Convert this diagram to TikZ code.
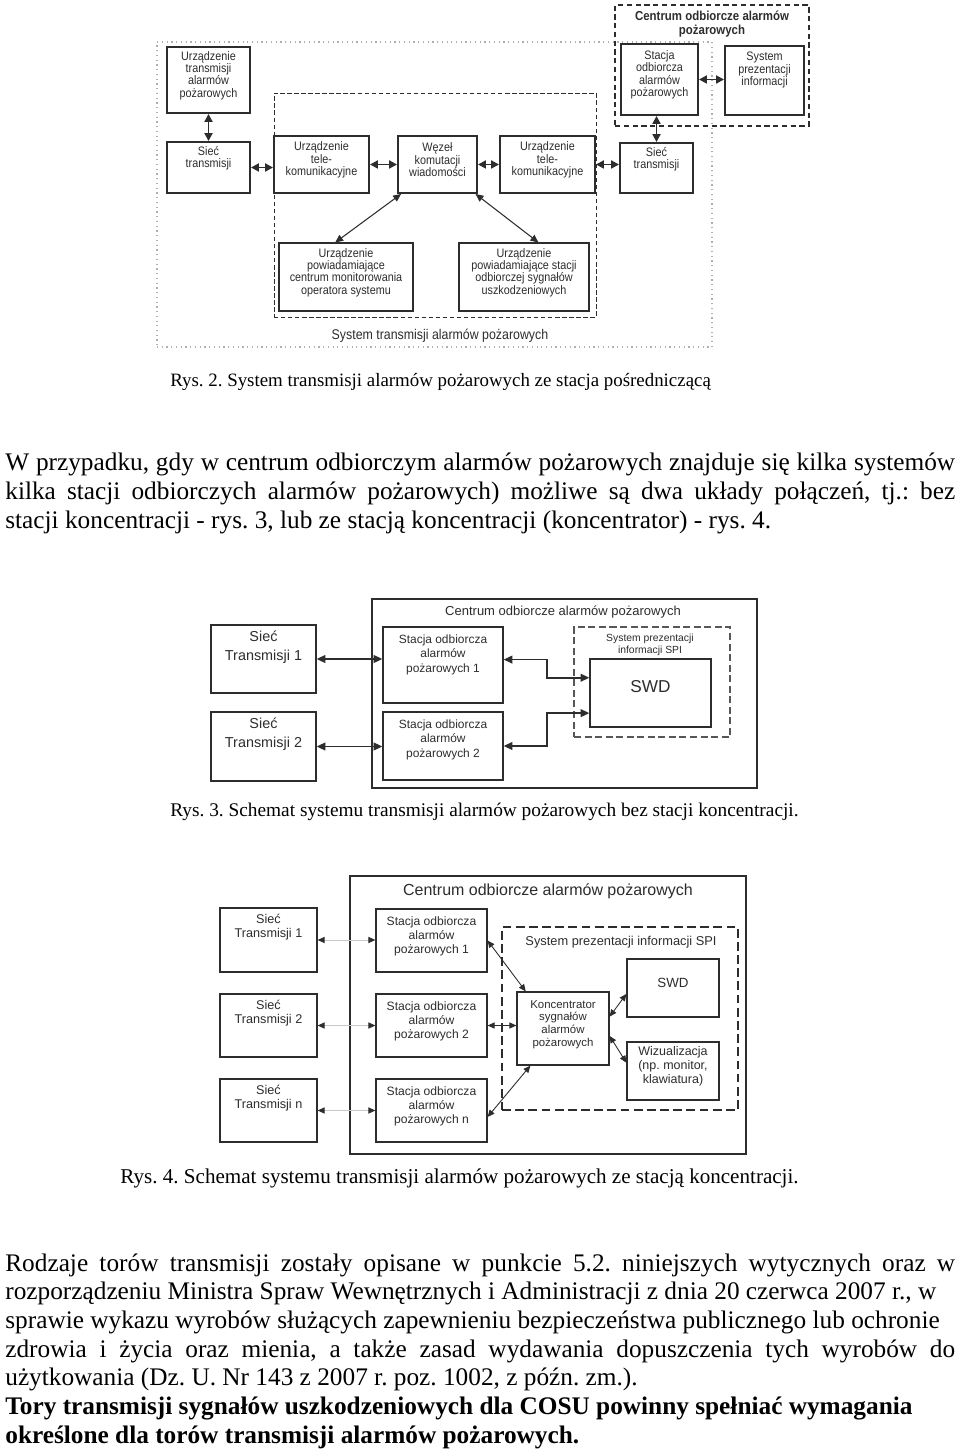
\documentclass[tikz,border=0pt]{standalone}
\usepackage{fontspec}
\setmainfont{Liberation Serif}
\newfontfamily\diagfont{Liberation Sans}
\newfontfamily\narrowfont{Liberation Sans}[FakeStretch=0.88]
\usetikzlibrary{arrows.meta, positioning, calc, fit}
\definecolor{ink}{RGB}{45, 45, 45}
\definecolor{dotgrey}{RGB}{175, 175, 175}
\definecolor{linegrey}{RGB}{200, 200, 200}
\frenchspacing
\setlength{\parindent}{0pt}
\tikzstyle{box2} = [rectangle, draw=ink, line width=1.1pt, inner sep=0pt, align=center, text=ink, font=\narrowfont\fontsize{7}{7.1}\selectfont]
\tikzstyle{box2thin} = [box2, line width=0.6pt]
\tikzstyle{top2} = [anchor=north, inner sep=0pt, align=center, text=ink, font=\narrowfont\fontsize{7}{7.1}\selectfont]
\tikzstyle{centrum2} = [rectangle, draw=ink, line width=1.1pt, dash pattern=on 3pt off 2pt, inner sep=0pt]
\tikzstyle{tele2} = [rectangle, draw=ink, line width=0.5pt, dash pattern=on 2.5pt off 1.5pt, inner sep=0pt]
\tikzstyle{system2} = [rectangle, draw=dotgrey, line width=0.7pt, dotted, inner sep=0pt]
\tikzstyle{arrow2} = [draw=ink, line width=1.1pt, {Triangle[length=4.5pt, width=4.5pt]}-{Triangle[length=4.5pt, width=4.5pt]}]
\tikzstyle{arrow2thin} = [draw=ink, line width=0.6pt, {Triangle[length=4.5pt, width=4pt]}-{Triangle[length=4.5pt, width=4pt]}]
\tikzstyle{box3} = [rectangle, draw=ink, line width=0.8pt, inner sep=0pt, align=center, text=ink, font=\diagfont\fontsize{6.8}{8.2}\selectfont]
\tikzstyle{top3} = [anchor=north, inner sep=0pt, align=center, text=ink, font=\diagfont\fontsize{6.8}{8.2}\selectfont]
\tikzstyle{spi3} = [rectangle, draw=ink!80, line width=0.8pt, dash pattern=on 4pt off 2pt, inner sep=0pt]
\tikzstyle{arrow3} = [draw=ink, line width=0.9pt, {Triangle[length=5pt, width=4.5pt]}-{Triangle[length=5pt, width=4.5pt]}]
\tikzstyle{box4} = [rectangle, draw=ink, line width=0.7pt, inner sep=0pt, align=center, text=ink, font=\diagfont\fontsize{6.9}{7.9}\selectfont]
\tikzstyle{top4} = [anchor=north, inner sep=0pt, align=center, text=ink, font=\diagfont\fontsize{6.9}{7.9}\selectfont]
\tikzstyle{spi4} = [rectangle, draw=ink, line width=0.9pt, dash pattern=on 5pt off 2.5pt, inner sep=0pt]
\tikzstyle{arrow4} = [draw=ink, line width=0.5pt, {Triangle[length=4pt, width=3.5pt]}-{Triangle[length=4pt, width=3.5pt]}]
\tikzstyle{link4} = [draw=linegrey, line width=0.5pt, {Triangle[length=4pt, width=3.5pt, color=ink]}-{Triangle[length=4pt, width=3.5pt, color=ink]}]
\tikzstyle{bodytext} = [anchor=base west, inner sep=0pt, text width=19cm, align=justify, font=\fontsize{14.4}{16.33}\selectfont]
\tikzstyle{caption} = [anchor=base west, inner sep=0pt]

\begin{document}
\begin{tikzpicture}[x=0.02cm, y=-0.02cm]
    \fill[white] (0,0) rectangle (960,1452);
    \useasboundingbox (0,0) rectangle (960,1452);

    % Rys. 2
    \node[system2, fit={(157,42) (712,347)}] (sta2) {};
    \node[tele2, fit={(274,93) (596,317)}] (telearea) {};
    \node[centrum2, fit={(615,5) (809,126)}] (cod2) {};
    \node[text=ink, align=center, font=\narrowfont\bfseries\fontsize{7.4}{7.6}\selectfont] (cod2title) at (712,24) {Centrum odbiorcze alarmów\\pożarowych};
    \node[box2, fit={(167,47) (250,113)}] (utr) {Urządzenie\\transmisji\\alarmów\\pożarowych};
    \node[box2, fit={(167,142) (250,193)}, label={[top2, yshift=-2.8pt]north:{Sieć\\transmisji}}] (sieL) {};
    \node[box2, fit={(274,136) (369,193)}] (tkL) {Urządzenie\\tele-\\komunikacyjne};
    \node[box2, fit={(398,136) (477,193)}] (wez) {Węzeł\\komutacji\\wiadomości};
    \node[box2, fit={(500,136) (595,193)}] (tkR) {Urządzenie\\tele-\\komunikacyjne};
    \node[box2, fit={(620,143) (693,193)}, label={[top2, yshift=-2.8pt]north:{Sieć\\transmisji}}] (sieR) {};
    \node[box2, fit={(621,44) (698,115)}] (soa) {Stacja\\odbiorcza\\alarmów\\pożarowych};
    \node[box2, fit={(725,46) (804,115)}, label={[top2, yshift=-4pt]north:{System\\prezentacji\\informacji}}] (spi) {};
    \node[box2thin, fit={(279,243) (413,311)}] (pow1) {Urządzenie\\powiadamiające\\centrum monitorowania\\operatora systemu};
    \node[box2thin, fit={(459,243) (589,311)}] (pow2) {Urządzenie\\powiadamiające stacji\\odbiorczej sygnałów\\uszkodzeniowych};
    \node[text=ink, font=\narrowfont\fontsize{8}{9}\selectfont] (sta2label) at (440,336) {System transmisji alarmów pożarowych};

    \draw[arrow2] (utr) -- (sieL);
    \draw[arrow2] (sieL.east) -- (sieL.east -| tkL.west);
    \draw[arrow2] (tkL.east) -- (tkL.east -| wez.west);
    \draw[arrow2] (wez.east) -- (wez.east -| tkR.west);
    \draw[arrow2] (tkR.east) -- (tkR.east -| sieR.west);
    \draw[arrow2] (soa.east) -- (soa.east -| spi.west);
    \draw[arrow2] (sieR.north) -- (sieR.north |- soa.south);
    \draw[arrow2thin] ($(wez.south west)!0.05!(wez.south east)$) -- ($(pow1.north west)!0.42!(pow1.north east)$);
    \draw[arrow2thin] ($(wez.south west)!0.97!(wez.south east)$) -- ($(pow2.north west)!0.61!(pow2.north east)$);

    \node[caption, font=\fontsize{10.75}{12}\selectfont] (cap2) at (170,387) {Rys. 2. System transmisji alarmów pożarowych ze stacja pośredniczącą};

    \node[bodytext] (para1) at (5,471) {W przypadku, gdy w centrum odbiorczym alarmów pożarowych znajduje się kilka systemów\linebreak kilka stacji odbiorczych alarmów pożarowych) możliwe są dwa układy połączeń, tj.: bez\linebreak stacji koncentracji - rys. 3, lub ze stacją koncentracji (koncentrator) - rys. 4.};

    % Rys. 3
    \node[box3, fit={(372,599) (757,788)}] (cod3) {};
    \node[text=ink, font=\diagfont\fontsize{7.4}{8}\selectfont] (cod3title) at (563,612) {Centrum odbiorcze alarmów pożarowych};
    \node[spi3, fit={(574,627) (730,737)}] (spibox3) {};
    \node[text=ink, align=center, font=\diagfont\fontsize{5.9}{6.8}\selectfont] (spi3label) at (650,645) {System prezentacji\\informacji SPI};
    \node[box3, fit={(590,659) (711,727)}, font=\diagfont\fontsize{9.8}{11}\selectfont] (swd3) {SWD};
    \node[box3, fit={(211,625) (316,693)}, label={[top3, font=\diagfont\fontsize{8.2}{10.6}\selectfont, yshift=-3.5pt]north:{Sieć\\Transmisji 1}}] (sie31) {};
    \node[box3, fit={(211,712) (316,781)}, label={[top3, font=\diagfont\fontsize{8.2}{10.6}\selectfont, yshift=-3.5pt]north:{Sieć\\Transmisji 2}}] (sie32) {};
    \node[box3, fit={(383,627) (503,703)}, label={[top3, yshift=-4.5pt]north:{Stacja odbiorcza\\alarmów\\pożarowych 1}}] (sta31) {};
    \node[box3, fit={(383,712) (503,780)}, label={[top3, yshift=-4.5pt]north:{Stacja odbiorcza\\alarmów\\pożarowych 2}}] (sta32) {};

    \draw[arrow3] (sie31.east) -- (sie31.east -| sta31.west);
    \draw[arrow3] (sie32.east) -- (sie32.east -| sta32.west);
    \draw[arrow3] ($(sta31.north east)!0.43!(sta31.south east)$) -- ++(43,0) |- ($(swd3.north west)!0.28!(swd3.south west)$);
    \draw[arrow3] (sta32.east) -- ++(43,0) |- ($(swd3.north west)!0.79!(swd3.south west)$);

    \node[caption, font=\fontsize{11}{12}\selectfont] (cap3) at (170,816) {Rys. 3. Schemat systemu transmisji alarmów pożarowych bez stacji koncentracji.};

    % Rys. 4
    \node[box4, fit={(350,876) (746,1154)}] (cod4) {};
    \node[text=ink, font=\diagfont\fontsize{9.1}{10}\selectfont] (cod4title) at (548,891) {Centrum odbiorcze alarmów pożarowych};
    \node[spi4, fit={(502,927) (738,1110)}] (spibox4) {};
    \node[text=ink, font=\diagfont\fontsize{7.3}{8}\selectfont] (spi4label) at (621,942) {System prezentacji informacji SPI};
    \node[box4, fit={(220,908) (317,972)}, label={[top4, font=\diagfont\fontsize{7.2}{8}\selectfont, yshift=-3.4pt]north:{Sieć\\Transmisji 1}}] (sie41) {};
    \node[box4, fit={(220,994) (317,1057)}, label={[top4, font=\diagfont\fontsize{7.2}{8}\selectfont, yshift=-3.4pt]north:{Sieć\\Transmisji 2}}] (sie42) {};
    \node[box4, fit={(220,1079) (317,1142)}, label={[top4, font=\diagfont\fontsize{7.2}{8}\selectfont, yshift=-3.4pt]north:{Sieć\\Transmisji n}}] (sie4n) {};
    \node[box4, fit={(376,909) (487,972)}, label={[top4, yshift=-4.4pt]north:{Stacja odbiorcza\\alarmów\\pożarowych 1}}] (sta41) {};
    \node[box4, fit={(376,994) (487,1057)}, label={[top4, yshift=-4.4pt]north:{Stacja odbiorcza\\alarmów\\pożarowych 2}}] (sta42) {};
    \node[box4, fit={(376,1079) (487,1142)}, label={[top4, yshift=-4.4pt]north:{Stacja odbiorcza\\alarmów\\pożarowych n}}] (sta4n) {};
    \node[box4, fit={(517,992) (609,1065)}, font=\diagfont\fontsize{6.5}{7.3}\selectfont] (kon4) {Koncentrator\\sygnałów\\alarmów\\pożarowych};
    \node[box4, fit={(627,959) (719,1017)}, font=\diagfont\fontsize{7.6}{8.5}\selectfont] (swd4) {SWD};
    \node[box4, fit={(627,1042) (719,1100)}, font=\diagfont\fontsize{7.1}{8}\selectfont] (wiz4) {Wizualizacja\\(np. monitor,\\klawiatura)};

    \draw[link4] (sie41.east) -- (sie41.east -| sta41.west);
    \draw[link4] (sie42.east) -- (sie42.east -| sta42.west);
    \draw[link4] (sie4n.east) -- (sie4n.east -| sta4n.west);
    \draw[arrow4] (sta41.east) -- ($(kon4.north west)!0.1!(kon4.north east)$);
    \draw[arrow4] (sta42.east) -- (sta42.east -| kon4.west);
    \draw[arrow4] ($(sta4n.north east)!0.6!(sta4n.south east)$) -- ($(kon4.south west)!0.15!(kon4.south east)$);
    \draw[arrow4] ($(kon4.north east)!0.34!(kon4.south east)$) -- ($(swd4.north west)!0.6!(swd4.south west)$);
    \draw[arrow4] ($(kon4.north east)!0.6!(kon4.south east)$) -- ($(wiz4.north west)!0.36!(wiz4.south west)$);

    \node[caption, font=\fontsize{12}{13}\selectfont] (cap4) at (120,1183) {Rys. 4. Schemat systemu transmisji alarmów pożarowych ze stacją koncentracji.};

    \node[bodytext] (para2) at (5,1271) {Rodzaje torów transmisji zostały opisane w punkcie 5.2. niniejszych wytycznych oraz w\linebreak rozporządzeniu Ministra Spraw Wewnętrznych i Administracji z dnia 20 czerwca 2007 r., w\\ sprawie wykazu wyrobów służących zapewnieniu bezpieczeństwa publicznego lub ochronie\\ zdrowia i życia oraz mienia, a także zasad wydawania dopuszczenia tych wyrobów do\linebreak użytkowania (Dz. U. Nr 143 z 2007 r. poz. 1002, z późn. zm.).\par
    \textbf{Tory transmisji sygnałów uszkodzeniowych dla COSU powinny spełniać wymagania\\ określone dla torów transmisji alarmów pożarowych.}};
\end{tikzpicture}
\end{document}
